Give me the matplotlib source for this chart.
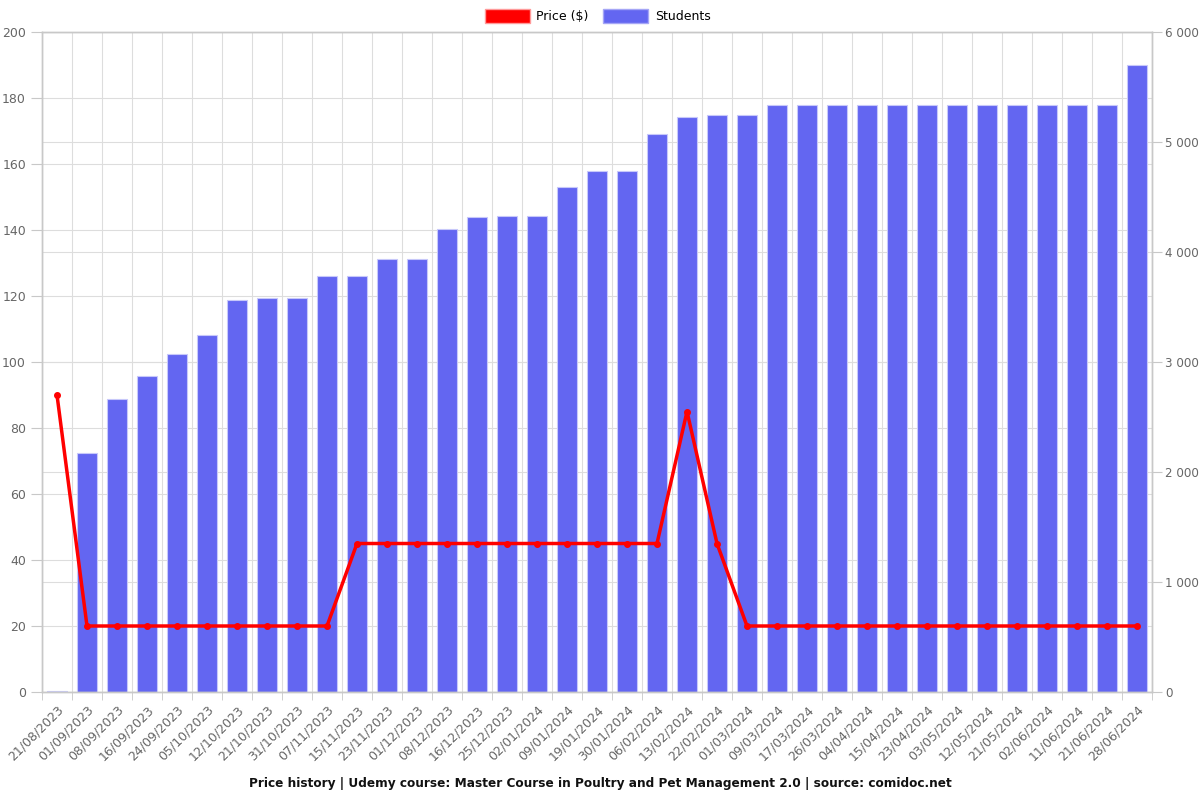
import matplotlib
matplotlib.use("Agg")
import matplotlib.pyplot as plt
import matplotlib.transforms as mtransforms
from matplotlib.patches import Patch
from matplotlib.ticker import FuncFormatter, FixedLocator
import numpy as np

dates = ["21/08/2023", "01/09/2023", "08/09/2023", "16/09/2023", "24/09/2023", "05/10/2023",
         "12/10/2023", "21/10/2023", "31/10/2023", "07/11/2023", "15/11/2023", "23/11/2023",
         "01/12/2023", "08/12/2023", "16/12/2023", "25/12/2023", "02/01/2024", "09/01/2024",
         "19/01/2024", "30/01/2024", "06/02/2024", "13/02/2024", "22/02/2024", "01/03/2024",
         "09/03/2024", "17/03/2024", "26/03/2024", "04/04/2024", "15/04/2024", "23/04/2024",
         "03/05/2024", "12/05/2024", "21/05/2024", "02/06/2024", "11/06/2024", "21/06/2024",
         "28/06/2024"]
price = [90, 20, 20, 20, 20, 20, 20, 20, 20, 20, 45, 45, 45, 45, 45, 45, 45, 45, 45, 45, 45,
         85, 45, 20, 20, 20, 20, 20, 20, 20, 20, 20, 20, 20, 20, 20, 20]
students = [5, 2175, 2665, 2873, 3073, 3245, 3564, 3582, 3582, 3780, 3786, 3936, 3936, 4209,
            4321, 4330, 4330, 4588, 4736, 4736, 5070, 5224, 5248, 5248, 5339, 5339, 5339, 5339,
            5339, 5339, 5339, 5339, 5339, 5339, 5339, 5339, 5700]
price_ticks = [0, 20, 40, 60, 80, 100, 120, 140, 160, 180, 200]
student_ticks = [0, 1000, 2000, 3000, 4000, 5000, 6000]

grid_c = "#dddddd"
spine_c = "#c8c8c8"
text_c = "#666666"
bar_c = "#6366F1"
fs = 9

fig = plt.figure(figsize=(12, 8), dpi=100)
ax = fig.add_axes([0.035, 0.135, 0.925, 0.825])
ax2 = ax.twinx()
ax.set_zorder(ax2.get_zorder() + 1)
ax.patch.set_visible(False)

x = np.arange(len(dates))
ax.set_xlim(-0.5, len(dates) - 0.5)
ax.set_ylim(0, 200)
ax2.set_ylim(0, 6000)

# bars on right axis
ax2.bar(x, students, width=0.68, color=bar_c, edgecolor="#c7c8fa", linewidth=0.8, zorder=2)

# grids
ax2.set_axisbelow(True)
ax2.yaxis.grid(True, color=grid_c, linewidth=0.8, zorder=0)
bt = mtransforms.blended_transform_factory(ax2.transAxes, ax.transData)
for v in price_ticks:
    ax2.plot([0, 1], [v, v], transform=bt, color=grid_c, linewidth=0.8, zorder=0.5)
for b in np.arange(-0.5, len(dates), 1.0):
    ax2.axvline(b, color=grid_c, linewidth=0.8, zorder=0.5)

# price line
ax.plot(x, price, color="#ff0000", linewidth=2.5, marker="o", markersize=4, zorder=5)

# ticks
ax.set_yticks(price_ticks)
ax2.set_yticks(student_ticks)
ax2.yaxis.set_major_formatter(FuncFormatter(lambda v, p: f"{int(v):,}".replace(",", " ")))
ax.set_xticks(x)
ax.set_xticklabels(dates, rotation=45, ha="right", rotation_mode="anchor")
ax.xaxis.set_minor_locator(FixedLocator(np.arange(-0.5, len(dates), 1.0)))
ax.tick_params(axis="x", which="major", length=0, pad=8, labelsize=fs, labelcolor=text_c)
ax.tick_params(axis="x", which="minor", length=6, color=spine_c)
ax.tick_params(axis="y", length=8, color=spine_c, labelsize=fs, labelcolor=text_c)
ax2.tick_params(axis="y", length=7, pad=2.5, color=spine_c, labelsize=8.6, labelcolor=text_c)

for a in (ax, ax2):
    for s in a.spines.values():
        s.set_color(spine_c)
        s.set_linewidth(1)

handles = [Patch(facecolor="#ff0000", edgecolor="#ff9999", label="Price ($)"),
           Patch(facecolor=bar_c, edgecolor="#a5a6f6", label="Students")]
fig.legend(handles=handles, loc="center", bbox_to_anchor=(0.498, 0.98), ncol=2, frameon=False,
           fontsize=fs, handlelength=3.6, handleheight=1.3, columnspacing=1.2, handletextpad=0.5)

fig.text(0.5, 0.021, "Price history | Udemy course: Master Course in Poultry and Pet Management 2.0 | source: comidoc.net",
         ha="center", va="center", fontsize=8.7, fontweight="bold", color="#111111")

fig.savefig("out.png", dpi=100)
